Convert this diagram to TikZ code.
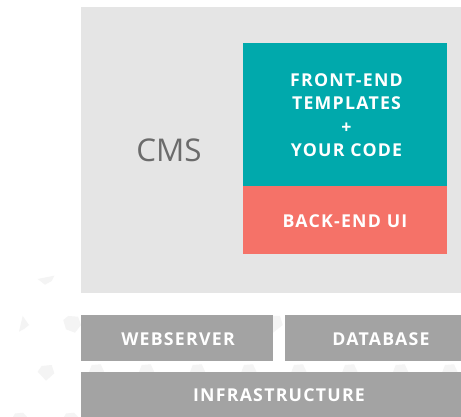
\documentclass[tikz,border=0pt]{standalone}
\usepackage{fontspec}
\setmainfont{Open Sans}
\newfontfamily\labelfont[LetterSpace=7,Scale=1]{Open Sans}
\definecolor{cmsgrey}{HTML}{E5E5E5}
\definecolor{layergrey}{HTML}{A3A3A3}
\definecolor{tealbox}{HTML}{00A9AC}
\definecolor{coralbox}{HTML}{F57268}
\definecolor{cmstext}{HTML}{6B6B6B}
\definecolor{faint}{HTML}{F4F4F4}
\tikzset{
  box/.style={draw=none,inner sep=0pt,outer sep=0pt,anchor=north west,text=white,align=center,
    font=\labelfont\bfseries\fontsize{13.3pt}{17.6pt}\selectfont},
  pent/.style={fill=faint,draw=none}
}
\begin{document}
\begin{tikzpicture}[x=0.75pt,y=-0.75pt]
\useasboundingbox (0,0) rectangle (461,417);
\fill[white] (0,0) rectangle (461,417);
% faint background pentagons
\fill[pent] (37.7,279) -- (54.3,275.7) -- (51.7,281) -- (45,284.7) -- cycle;
\fill[pent] (19,331.7) -- (22.7,316) -- (29,325) -- (24,329) -- cycle;
\fill[pent] (63.3,320) -- (68.3,316) -- (78,316.7) -- (81,325) -- (75,332.7) -- (66,329.3) -- cycle;
\fill[pent] (37.7,371.7) -- (41.7,366) -- (51.7,365) -- (54.3,373.3) -- (46,380.7) -- cycle;
\fill[pent] (273,316) -- (280,316) -- (282.7,325) -- (273,332.7) -- cycle;
\foreach \cx in {96.7,146.7,197.7,249,299,350,400.7,450}{
  \fill[pent] (\cx-8,373) -- (\cx-5,365) -- (\cx+4,364.3) -- (\cx+8,373) -- cycle;
}
\foreach \cx in {20,71}{
  \fill[pent] (\cx-7,417) -- (\cx-5,413.5) -- (\cx+3,412.7) -- (\cx+7,417) -- cycle;
}
% boxes
\node[box,fill=cmsgrey,minimum width=285pt,minimum height=214.5pt] (cms) at (81,7) {};
\node[font=\fontsize{23.5pt}{28pt}\selectfont,text=cmstext,anchor=center] (cmslabel) at (169,150) {CMS};
\node[box,fill=tealbox,minimum width=153pt,minimum height=107.25pt] (front) at (243,43) {};
\node[box,anchor=center] (frontlabel) at (346.5,115) {FRONT-END\\TEMPLATES\\+\\YOUR CODE};
\node[box,fill=coralbox,minimum width=153pt,minimum height=51pt] (back) at (243,186) {};
\node[box,anchor=center] (backlabel) at (345,221) {BACK-END UI};
\node[box,fill=layergrey,minimum width=144pt,minimum height=34.5pt] (web) at (81,315) {};
\node[box,anchor=center] (weblabel) at (178,339.5) {WEBSERVER};
\node[box,fill=layergrey,minimum width=132pt,minimum height=34.5pt] (db) at (285,315) {};
\node[box,anchor=center] (dblabel) at (381,339.5) {DATABASE};
\node[box,fill=layergrey,minimum width=285pt,minimum height=33.75pt] (infra) at (81,372) {};
\node[box,anchor=center] (infralabel) at (279,395.5) {INFRASTRUCTURE};
\end{tikzpicture}
\end{document}
